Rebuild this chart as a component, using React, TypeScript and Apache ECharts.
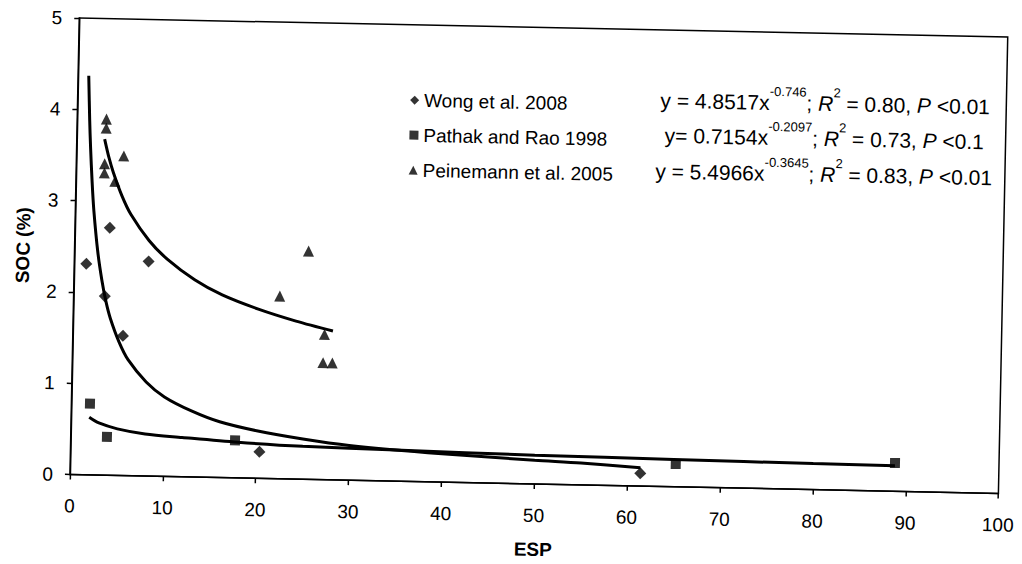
import React, { useEffect, useRef } from "react";
import * as echarts from "echarts";

const FONT = "'Liberation Sans', Arial, Helvetica, sans-serif";

// Axis ticks
const xMin = 0, xMax = 100, xStep = 10;
const yMin = 0, yMax = 5, yStep = 1;

// Series names
const seriesNames = ["Wong et al. 2008", "Pathak and Rao 1998", "Peinemann et al. 2005"];

// Observed points [ESP, SOC]
const wongPoints = [
  [1.3, 2.31], [3.75, 2.71], [8.0, 2.35], [3.36, 1.96], [5.4, 1.53], [20.35, 0.29], [61.4, 0.14],
];
const pathakPoints = [
  [2.0, 0.78], [3.9, 0.42], [17.7, 0.41], [65.2, 0.25], [88.8, 0.31],
];
const peinemannPoints = [
  [3.15, 3.9], [3.15, 3.8], [5.1, 3.5], [3.05, 3.41], [3.05, 3.31], [4.2, 3.22],
  [25.2, 2.5], [22.2, 2.0], [27.1, 1.59], [27.0, 1.28], [28.0, 1.28],
];

// Trend curves [ESP, SOC]
const wongFit = [
  [1.15, 4.37], [1.35, 3.88], [1.5, 3.59], [1.75, 3.2], [2, 2.89], [2.5, 2.45], [3, 2.14],
  [3.5, 1.9], [4, 1.72], [5, 1.46], [6, 1.27], [8, 1.03], [10, 0.87], [13, 0.72],
  [16, 0.61], [20, 0.52], [25, 0.44], [30, 0.38], [40, 0.31], [50, 0.26], [55, 0.24], [61.4, 0.2],
];
const pathakFit = [
  [1.95, 0.63], [3, 0.57], [5, 0.51], [8, 0.46], [12, 0.43], [18, 0.39], [25, 0.36],
  [35, 0.34], [50, 0.315], [65, 0.3], [80, 0.285], [88.8, 0.28],
];
const peinemannFit = [
  [3.0, 3.68], [3.5, 3.48], [4, 3.32], [5, 3.06], [6, 2.86], [8, 2.58], [10, 2.38],
  [13, 2.16], [16, 2.0], [20, 1.85], [24, 1.73], [28, 1.63],
];

// Equations text
const eqCoef = ["y = 4.8517x", "y= 0.7154x", "y = 5.4966x"];
const eqExp = ["-0.746", "-0.2097", "-0.3645"];
const eqR2 = ["0.80", "0.73", "0.83"];
const eqP = ["<0.01", "<0.1", "<0.01"];

export default function App() {
  const ref = useRef<HTMLDivElement>(null);

  useEffect(() => {
    if (!ref.current) return;
    const chart = echarts.init(ref.current, undefined, { renderer: "svg" });

    const base = { fontFamily: FONT, fill: "#000", verticalAlign: "bottom", lineHeight: 28, fontSize: 21 };
    const rich = {
      n: { ...base },
      i: { ...base, fontStyle: "italic" },
      s: { fontFamily: FONT, fill: "#000", verticalAlign: "bottom", fontSize: 13, lineHeight: 13, padding: [0, 0, 15, 0] },
    };
    const eqRight = [35.2, 40.5, 31.7];
    const eqTop = [80.2, 115.2, 151.1];
    const eqGraphics = eqCoef.map((c, k) => ({
      type: "text",
      right: eqRight[k],
      top: eqTop[k],
      style: {
        text: `{n|${c}}{s|${eqExp[k]}}{n|; }{i|R}{s|2}{n| = ${eqR2[k]}, }{i|P}{n| ${eqP[k]}}`,
        rich,
        fill: "#000",
        font: `21px ${FONT}`,
      },
    }));

    const mk = (name: string, data: number[][], symbol: string, size: number) => ({
      name,
      type: "scatter",
      data,
      symbol,
      symbolSize: size,
      itemStyle: { color: "#000" },
      z: 5,
    });
    const ln = (data: number[][]) => ({
      type: "line",
      data,
      showSymbol: false,
      symbol: "none",
      smooth: 0.3,
      lineStyle: { color: "#000", width: 3 },
      z: 3,
    });

    chart.setOption({
      animation: false,
      backgroundColor: "#fff",
      textStyle: { fontFamily: FONT, color: "#000" },
      grid: {
        left: 74.5, right: 16.5, top: 27.5, bottom: 79.5,
        show: true, borderColor: "#000", borderWidth: 1.5,
      },
      legend: {
        orient: "vertical",
        left: 407,
        top: 92.8,
        padding: 0,
        itemGap: 15,
        itemWidth: 9,
        itemHeight: 9,
        data: [
          { name: seriesNames[0], icon: "diamond" },
          { name: seriesNames[1], icon: "rect" },
          { name: seriesNames[2], icon: "triangle" },
        ],
        textStyle: { fontFamily: FONT, fontSize: 19, color: "#000", lineHeight: 20 },
      },
      xAxis: {
        type: "value",
        min: xMin, max: xMax, interval: xStep,
        axisLine: { show: true, lineStyle: { color: "#000", width: 1.5 } },
        axisTick: { show: true, inside: false, length: 5, lineStyle: { color: "#000", width: 1.5 } },
        splitLine: { show: false },
        axisLabel: { color: "#000", fontSize: 19, fontFamily: FONT, margin: 22 },
        name: "ESP",
        nameLocation: "middle",
        nameGap: 56,
        nameTextStyle: { color: "#000", fontSize: 19, fontWeight: "bold", fontFamily: FONT },
      },
      yAxis: {
        type: "value",
        min: yMin, max: yMax, interval: yStep,
        axisLine: { show: true, lineStyle: { color: "#000", width: 1.5 } },
        axisTick: { show: true, inside: false, length: 5, lineStyle: { color: "#000", width: 1.5 } },
        splitLine: { show: false },
        axisLabel: { color: "#000", fontSize: 19, fontFamily: FONT, margin: 17 },
        name: "SOC (%)",
        nameLocation: "middle",
        nameGap: 42,
        nameRotate: 90,
        nameTextStyle: { color: "#000", fontSize: 19, fontWeight: "bold", fontFamily: FONT },
      },
      graphic: eqGraphics,
      series: [
        ln(wongFit),
        ln(pathakFit),
        ln(peinemannFit),
        mk(seriesNames[0], wongPoints, "diamond", 12),
        mk(seriesNames[1], pathakPoints, "rect", 10),
        mk(seriesNames[2], peinemannPoints, "triangle", 11),
      ],
    });

    return () => chart.dispose();
  }, []);

  return (
    <div style={{ position: "fixed", left: 0, top: 0, width: 1022, height: 564, overflow: "hidden", background: "#fff" }}>
      <div
        ref={ref}
        style={{ width: 1022, height: 564, transform: "rotate(1.17deg)", transformOrigin: "540px 256px" }}
      />
    </div>
  );
}
